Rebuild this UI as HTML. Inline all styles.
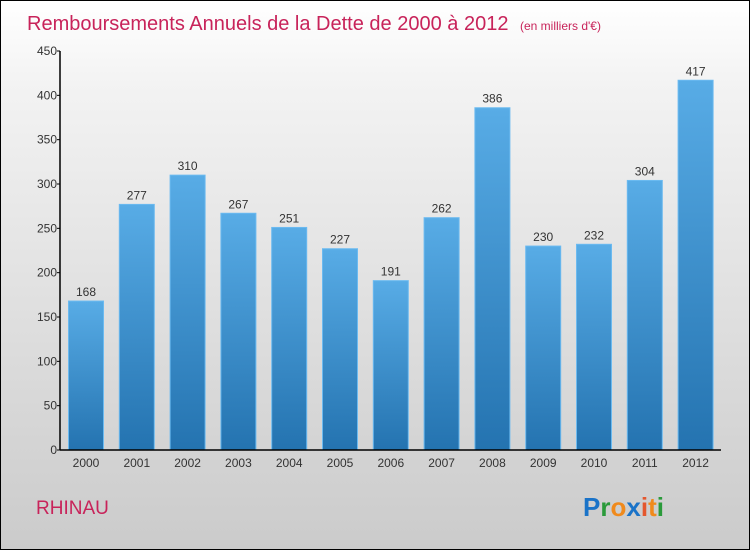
<!DOCTYPE html>
<html><head><meta charset="utf-8"><style>
body{margin:0;}
#wrap{position:relative;width:748px;height:548px;border:1px solid #000;background:linear-gradient(#fff 0%,#f3f3f3 15%,#d9d9d9 70%,#cbcbcb 100%);overflow:hidden;font-family:"Liberation Sans",sans-serif;}
svg text{font-family:"Liberation Sans",sans-serif;}
</style></head><body>
<div id="wrap">
<svg id="chart" width="748" height="548">
<defs><linearGradient id="bg" x1="0" y1="0" x2="0" y2="1"><stop offset="0" stop-color="#58ace6"/><stop offset="1" stop-color="#2473b0"/></linearGradient></defs>
<text x="26" y="29" font-size="20" fill="#c8235a">Remboursements Annuels de la Dette de 2000 à 2012 <tspan font-size="12" dx="6">(en milliers d'€)</tspan></text>
<text x="35" y="513" font-size="19" fill="#c8235a">RHINAU</text>
<text x="582" y="515" font-size="26" font-weight="bold"><tspan fill="#1a73c8">P</tspan><tspan fill="#2a9a3a">r</tspan><tspan fill="#f08a1c">o</tspan><tspan fill="#1a73c8">x</tspan><tspan fill="#e4572e">i</tspan><tspan fill="#f08a1c">t</tspan><tspan fill="#2a9a3a">i</tspan></text>
<g id="plot"></g>
</svg>
</div>
<script>
const categories=["2000","2001","2002","2003","2004","2005","2006","2007","2008","2009","2010","2011","2012"];
const values=[168,277,310,267,251,227,191,262,386,230,232,304,417];
const yTicks=[0,50,100,150,200,250,300,350,400,450];
const NS="http://www.w3.org/2000/svg";
const g=document.getElementById('plot');
const y0=449,yTop=50,yMax=450,x0=59,x1=720,step=50.8,first=85,bw=35;
const Y=v=>y0-(v/yMax)*(y0-yTop);
const X=i=>first+i*step;
function mk(t,a){const e=document.createElementNS(NS,t);for(const k in a)e.setAttribute(k,a[k]);g.appendChild(e);return e;}
values.forEach((v,i)=>{
 const r=mk('rect',{x:X(i)-bw/2,y:Y(v),width:bw,height:y0-Y(v),fill:'url(#bg)',stroke:'#6bbaf0','stroke-width':1});
 
 
 const t=mk('text',{x:X(i),y:Y(v)-5,'text-anchor':'middle','font-size':12,fill:'#333'});
 t.textContent=v;
 
 
 const c=mk('text',{x:X(i),y:y0+17,'text-anchor':'middle','font-size':12,fill:'#333'});
 c.textContent=categories[i];
 
 
});
const ya=mk('line',{x1:x0,y1:yTop,x2:x0,y2:y0,stroke:'#000','stroke-width':1.5});


const xa=mk('line',{x1:x0,y1:y0,x2:x1,y2:y0,stroke:'#000','stroke-width':1.5});


yTicks.forEach(v=>{
 mk('line',{x1:x0-3,y1:Y(v),x2:x0,y2:Y(v),stroke:'#000'});
 const t=mk('text',{x:x0-3,y:Y(v)+4,'text-anchor':'end','font-size':12,fill:'#333'});
 t.textContent=v;
 
 
});
</script>
</body></html>
